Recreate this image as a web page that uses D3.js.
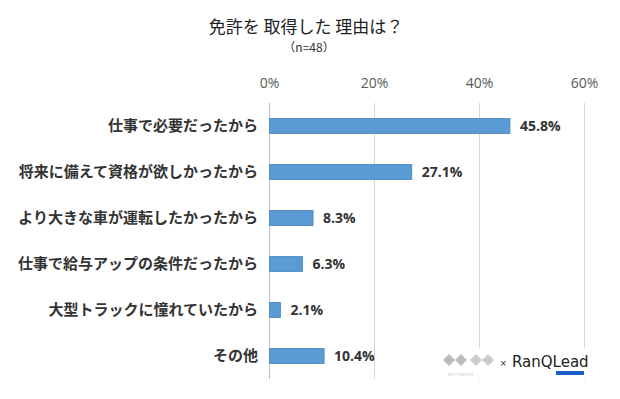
<!DOCTYPE html>
<html>
<head>
<meta charset="utf-8">
<script src="https://cdn.jsdelivr.net/npm/d3@7"></script>
<style>
  body { margin: 0; background: #fff; }
  svg { display: block; }
</style>
</head>
<body>
<svg id="chart" width="620" height="399"></svg>
<script>
const reasons = [
  "仕事で必要だったから",
  "将来に備えて資格が欲しかったから",
  "より大きな車が運転したかったから",
  "仕事で給与アップの条件だったから",
  "大型トラックに憧れていたから",
  "その他"
];
const shares = [45.8, 27.1, 8.3, 6.3, 2.1, 10.4];
const ticks = [0, 20, 40, 60];

const svg = d3.select("#chart");
const jp = "'Noto Sans CJK JP', 'Noto Sans', sans-serif";

const x = d3.scaleLinear().domain([0, 60]).range([269.5, 584.5]);
const y = d3.scaleBand().domain(reasons).range([103, 379]).paddingInner(0.67).paddingOuter(0.335);

// title
svg.append("text")
    .attr("x", 306).attr("y", 33)
    .attr("text-anchor", "middle")
    .style("font", `17px ${jp}`)
    .attr("fill", "#222")
    .text("免許を 取得した 理由は？");
svg.append("text")
    .attr("x", 309).attr("y", 52)
    .attr("text-anchor", "middle")
    .style("font", `12px ${jp}`)
    .attr("fill", "#333")
    .text("（n=48）");

// gridlines
svg.append("g")
    .selectAll("line")
    .data(ticks)
    .join("line")
    .attr("x1", d => x(d)).attr("x2", d => x(d))
    .attr("y1", 103).attr("y2", 379)
    .attr("stroke", d => d === 0 ? "#bfbfbf" : "#d6d6d6")
    .attr("stroke-width", 1);

// top axis labels
svg.append("g")
    .selectAll("text")
    .data(ticks)
    .join("text")
    .attr("x", d => x(d)).attr("y", 88)
    .attr("text-anchor", "middle")
    .style("font", "14px 'Open Sans', 'DejaVu Sans', sans-serif")
    .attr("fill", "#595959")
    .text(d => d + "%");

// bars
svg.append("g")
    .selectAll("rect")
    .data(shares)
    .join("rect")
    .attr("x", x(0))
    .attr("y", (d, i) => y(reasons[i]))
    .attr("width", d => x(d) - x(0))
    .attr("height", y.bandwidth())
    .attr("fill", "#5b9bd5")
    .attr("stroke", "#4a86c0")
    .attr("stroke-width", 0.8);

// value labels
svg.append("g")
    .selectAll("text")
    .data(shares)
    .join("text")
    .attr("x", d => x(d) + 10)
    .attr("y", (d, i) => y(reasons[i]) + y.bandwidth() / 2)
    .attr("dy", "0.36em")
    .style("font", "bold 14px 'Open Sans', 'DejaVu Sans', sans-serif")
    .attr("fill", "#333")
    .text(d => d.toFixed(1) + "%");

// category labels
svg.append("g")
    .selectAll("text")
    .data(reasons)
    .join("text")
    .attr("x", 258)
    .attr("y", d => y(d) + y.bandwidth() / 2)
    .attr("dy", "0.36em")
    .attr("text-anchor", "end")
    .style("font", `bold 15px ${jp}`)
    .attr("fill", "#333")
    .text(d => d);

// logo area
const logo = svg.append("g");
logo.append("rect")
    .attr("x", 440).attr("y", 348).attr("width", 150).attr("height", 30)
    .attr("fill", "#fff");
const chevrons = [[443, "#bbb"], [470, "#ccc"]];
chevrons.forEach(([cx, c]) => {
  logo.append("path")
      .attr("d", `M${cx},360 l6,-6 l6,6 l6,-6 l6,6 l-6,6 l-6,-6 l-6,6 z`)
      .attr("fill", c);
});
logo.append("text")
    .attr("x", 448).attr("y", 376)
    .style("font", "3px sans-serif").attr("fill", "#bbb")
    .text("W R I T E   W O R K");
logo.append("text")
    .attr("x", 500).attr("y", 367)
    .style("font", "11px sans-serif").attr("fill", "#333")
    .text("×");
logo.append("text")
    .attr("x", 512).attr("y", 367)
    .style("font", "15px 'DejaVu Sans', sans-serif").attr("fill", "#222")
    .text("RanQLead");
logo.append("rect")
    .attr("x", 556).attr("y", 371).attr("width", 28).attr("height", 4)
    .attr("fill", "#1a5fc4");
</script>
</body>
</html>
